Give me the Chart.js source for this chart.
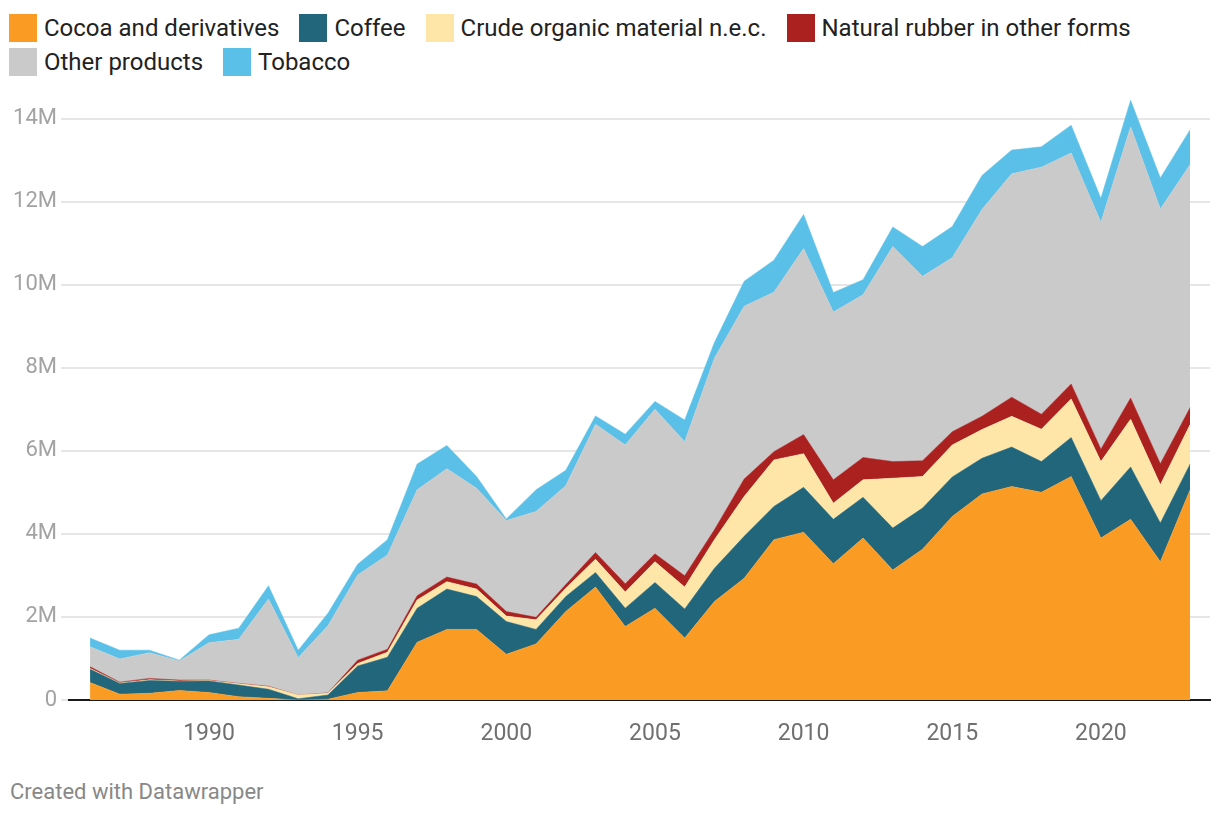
<!DOCTYPE html>
<html>
<head>
<meta charset="utf-8">
<script src="https://cdn.jsdelivr.net/npm/chart.js@4.4.1/dist/chart.umd.min.js"></script>
<style>
  html, body { margin: 0; padding: 0; background: #fff; }
  body { width: 1220px; height: 818px; position: relative; overflow: hidden; font-family: Roboto, "Noto Sans", sans-serif; }
  #legend { position: absolute; left: 9px; top: 14px; width: 1200px; display: flex; flex-wrap: wrap; row-gap: 6px; }
  .item { display: flex; align-items: center; margin-right: 20px; height: 28px; }
  .box { width: 28px; height: 28px; margin-right: 7px; }
  .lbl { font-size: 24px; color: #222; white-space: nowrap; }
  #wrap { position: absolute; left: 0; top: 0; width: 1220px; height: 760px; }
  #footer { position: absolute; left: 10px; top: 779px; font-size: 22px; color: #888; }
</style>
</head>
<body>
<div id="legend"></div>
<div id="wrap"><canvas id="areaChart"></canvas></div>
<div id="footer">Created with Datawrapper</div>
<script>
// values in millions
const years = [1986, 1987, 1988, 1989, 1990, 1991, 1992, 1993, 1994, 1995, 1996, 1997, 1998, 1999,
    2000, 2001, 2002, 2003, 2004, 2005, 2006, 2007, 2008, 2009, 2010, 2011, 2012, 2013, 2014,
    2015, 2016, 2017, 2018, 2019, 2020, 2021, 2022, 2023];
const cocoa = [0.42, 0.14, 0.16, 0.23, 0.18, 0.08, 0.04, 0.00, 0.02, 0.18, 0.22, 1.39, 1.70, 1.70,
    1.10, 1.35, 2.13, 2.72, 1.77, 2.21, 1.49, 2.37, 2.93, 3.86, 4.04, 3.28, 3.90, 3.13, 3.63,
    4.42, 4.96, 5.14, 5.00, 5.38, 3.90, 4.35, 3.33, 5.06];
const coffee = [0.32, 0.26, 0.31, 0.22, 0.28, 0.28, 0.22, 0.03, 0.10, 0.64, 0.81, 0.82, 0.97, 0.79,
    0.79, 0.35, 0.36, 0.35, 0.44, 0.62, 0.70, 0.80, 1.01, 0.80, 1.08, 1.07, 0.98, 1.01, 0.99,
    0.95, 0.86, 0.95, 0.74, 0.94, 0.90, 1.26, 0.93, 0.62];
const crude = [0.02, 0.01, 0.02, 0.01, 0.01, 0.03, 0.06, 0.09, 0.04, 0.06, 0.12, 0.20, 0.18, 0.18,
    0.13, 0.23, 0.20, 0.32, 0.39, 0.50, 0.53, 0.69, 0.96, 1.12, 0.81, 0.39, 0.42, 1.20, 0.76,
    0.77, 0.69, 0.74, 0.78, 0.93, 0.94, 1.15, 0.92, 0.95];
const rubber = [0.04, 0.02, 0.03, 0.02, 0.01, 0.01, 0.01, 0.00, 0.01, 0.08, 0.07, 0.10, 0.11, 0.12,
    0.11, 0.06, 0.09, 0.16, 0.20, 0.19, 0.27, 0.24, 0.42, 0.20, 0.46, 0.56, 0.54, 0.40, 0.38,
    0.32, 0.32, 0.46, 0.36, 0.36, 0.30, 0.51, 0.51, 0.41];
const other = [0.48, 0.56, 0.62, 0.46, 0.90, 1.06, 2.10, 0.90, 1.62, 2.05, 2.27, 2.55, 2.61, 2.31,
    2.19, 2.55, 2.38, 3.09, 3.34, 3.48, 3.23, 4.13, 4.16, 3.84, 4.48, 4.04, 3.92, 5.18, 4.44,
    4.19, 4.98, 5.38, 5.95, 5.56, 5.46, 6.53, 6.13, 5.85];
const tobacco = [0.21, 0.21, 0.06, 0.02, 0.19, 0.27, 0.32, 0.18, 0.30, 0.26, 0.37, 0.62, 0.56, 0.28,
    0.04, 0.52, 0.37, 0.20, 0.26, 0.19, 0.52, 0.38, 0.60, 0.77, 0.82, 0.47, 0.36, 0.47, 0.72,
    0.75, 0.82, 0.57, 0.49, 0.67, 0.58, 0.64, 0.75, 0.84];

const seriesNames = ['Cocoa and derivatives', 'Coffee', 'Crude organic material n.e.c.',
    'Natural rubber in other forms', 'Other products', 'Tobacco'];
const seriesValues = [cocoa, coffee, crude, rubber, other, tobacco];
const seriesColors = ['#FA9B24', '#22667C', '#FEE6A8', '#AB2120', '#CACACA', '#5BC0E7'];
const xTicks = [1990, 1995, 2000, 2005, 2010, 2015, 2020];
const yTicks = [0, 2, 4, 6, 8, 10, 12, 14];

// legend
const legend = document.getElementById('legend');
seriesNames.forEach(function (name, i) {
    let item = document.createElement('div');
    item.className = 'item';
    item.innerHTML = '<div class="box" style="background:' + seriesColors[i] + '"></div><span class="lbl">' + name + '</span>';
    legend.appendChild(item);
});

const datasets = seriesNames.map(function (name, i) {
    return {
        label: name,
        data: years.map((yr, j) => ({ x: yr, y: seriesValues[i][j] })),
        backgroundColor: seriesColors[i],
        borderColor: seriesColors[i],
        borderWidth: 0.5,
        pointRadius: 0,
        tension: 0,
        fill: i === 0 ? 'origin' : '-1'
    };
});

const config = {
    type: 'line',
    data: { datasets: datasets },
    options: {
        animation: false,
        responsive: true,
        maintainAspectRatio: false,
        events: [],
        layout: {
            padding: { left: 0, right: 10, top: 77, bottom: 0 }
        },
        plugins: {
            legend: { display: false },
            tooltip: { enabled: false }
        },
        scales: {
            x: {
                type: 'linear',
                min: 1985.29,
                max: 2023.67,
                afterBuildTicks: function (axis) {
                    axis.ticks = xTicks.map(v => ({ value: v }));
                },
                afterFit: function (scale) {
                    scale.height = 60;
                },
                grid: { display: false },
                border: { color: '#1a1a1a', width: 2 },
                ticks: {
                    padding: 12,
                    color: '#707070',
                    font: { family: 'Roboto', size: 23 },
                    callback: (v) => String(v)
                }
            },
            y: {
                stacked: true,
                min: 0,
                max: 15,
                afterBuildTicks: function (axis) {
                    axis.ticks = yTicks.map(v => ({ value: v }));
                },
                afterFit: function (scale) {
                    scale.width = 69;
                },
                border: { display: false },
                grid: {
                    color: '#e6e6e6',
                    lineWidth: 2,
                    drawTicks: true,
                    tickLength: 8
                },
                ticks: {
                    padding: 4,
                    color: '#a3a3a3',
                    font: { family: 'Roboto', size: 22 },
                    callback: (v) => v === 0 ? '0' : v + 'M'
                }
            }
        }
    }
};

const areaChart = new Chart('areaChart', config);
</script>
</body>
</html>
